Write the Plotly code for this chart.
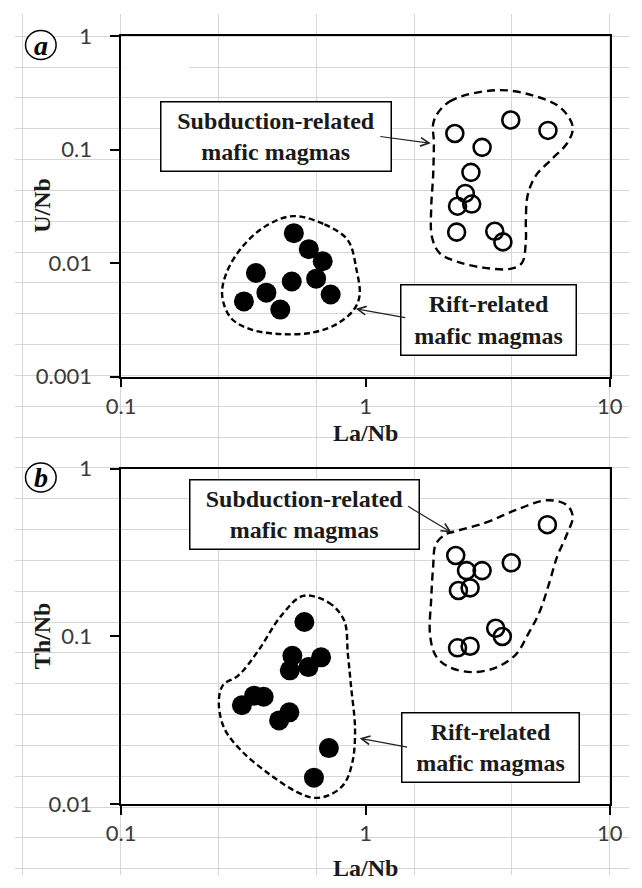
import math
import plotly.graph_objects as go

W, H = 642, 888

# ---------------- data ----------------
# panel a : U/Nb vs La/Nb
a_rift_la = [0.509, 0.586, 0.668, 0.356, 0.499, 0.628, 0.393, 0.318, 0.720, 0.448]
a_rift_u = [0.0184, 0.0133, 0.0104, 0.0082, 0.0069, 0.0073, 0.0055, 0.0046, 0.0053, 0.0039]
a_sub_la = [2.32, 3.93, 5.58, 3.00, 2.70, 2.56, 2.38, 2.72, 2.36, 3.38, 3.65]
a_sub_u = [0.139, 0.183, 0.148, 0.105, 0.0632, 0.0412, 0.0318, 0.0332, 0.0188, 0.0191, 0.0154]

# panel b : Th/Nb vs La/Nb
b_rift_la = [0.562, 0.502, 0.658, 0.584, 0.490, 0.350, 0.383, 0.312, 0.488, 0.443, 0.708, 0.615]
b_rift_th = [0.122, 0.0767, 0.0751, 0.0657, 0.0628, 0.0444, 0.0437, 0.0389, 0.0353, 0.0316, 0.0216, 0.0144]
b_sub_la = [2.34, 2.59, 3.00, 3.95, 5.55, 2.68, 2.40, 3.41, 3.63, 2.38, 2.68]
b_sub_th = [0.304, 0.247, 0.247, 0.275, 0.464, 0.195, 0.188, 0.112, 0.100, 0.0856, 0.0875]

# field envelopes (dashed outlines)
a_rift_env_x = [0.506, 0.679, 0.847, 0.918, 0.946, 0.895, 0.759, 0.608, 0.453, 0.337, 0.281, 0.259, 0.270, 0.313, 0.391]
a_rift_env_y = [0.0260, 0.0220, 0.0159, 0.00881, 0.00521, 0.00388, 0.00289, 0.00245, 0.00237, 0.00262, 0.00330, 0.00521, 0.00825, 0.0139, 0.0213]
a_sub_env_x = [1.905, 2.208, 3.436, 4.786, 6.31, 7.05, 6.67, 5.75, 4.97, 4.61, 4.53, 4.53, 4.365, 3.91, 3.08, 2.42, 2.014, 1.871, 1.857, 1.891, 1.905]
a_sub_env_y = [0.180, 0.266, 0.335, 0.303, 0.233, 0.157, 0.1135, 0.0818, 0.0589, 0.0398, 0.0235, 0.0159, 0.01004, 0.00892, 0.0091, 0.01017, 0.01222, 0.01696, 0.0306, 0.0589, 0.1135]
b_rift_env_x = [0.555, 0.705, 0.817, 0.847, 0.873, 0.906, 0.885, 0.817, 0.705, 0.608, 0.525, 0.405, 0.313, 0.265, 0.251, 0.261, 0.302, 0.363, 0.453]
b_rift_env_y = [0.1745, 0.1596, 0.125, 0.0783, 0.0501, 0.0281, 0.0180, 0.0132, 0.01128, 0.01093, 0.0118, 0.01507, 0.0206, 0.0281, 0.0401, 0.0513, 0.0586, 0.0818, 0.1336]
b_sub_env_x = [2.29, 3.08, 4.13, 5.55, 6.67, 7.05, 6.67, 6.08, 5.65, 5.15, 4.61, 4.13, 3.44, 2.75, 2.21, 1.94, 1.837, 1.857, 1.891, 1.94, 2.13]
b_sub_env_y = [0.421, 0.475, 0.568, 0.649, 0.607, 0.519, 0.407, 0.298, 0.2085, 0.1396, 0.1022, 0.0783, 0.0655, 0.0613, 0.0655, 0.0766, 0.1022, 0.1668, 0.2606, 0.356, 0.407]

x_ticks = [0.1, 1, 10]
x_ticktext = ["0.1", "1", "10"]
a_y_ticks = [0.001, 0.01, 0.1, 1]
a_y_ticktext = ["0.001", "0.01", "0.1", "1"]
b_y_ticks = [0.01, 0.1, 1]
b_y_ticktext = ["0.01", "0.1", "1"]

label_sub = "Subduction-related<br>mafic magmas"
label_rift = "Rift-related<br>mafic magmas"

# ---------------- figure ----------------
def px(x):
    return x / W

def py(y):
    return 1 - y / H

fig = go.Figure()

# spreadsheet-like background grid subplot (x/y)
fig.add_trace(go.Scatter(x=[0], y=[0], mode="markers", marker=dict(opacity=0),
                         hoverinfo="skip", showlegend=False, xaxis="x", yaxis="y"))

def closed(v):
    return list(v) + [v[0]]

def add_panel(xa, ya, rift_x, rift_y, sub_x, sub_y, renv_x, renv_y, senv_x, senv_y):
    fig.add_trace(go.Scatter(x=closed(renv_x), y=closed(renv_y), mode="lines",
                             line=dict(color="black", width=2.4, dash="6px,3.5px", shape="spline", smoothing=1),
                             showlegend=False, hoverinfo="skip", xaxis=xa, yaxis=ya))
    fig.add_trace(go.Scatter(x=closed(senv_x), y=closed(senv_y), mode="lines",
                             line=dict(color="black", width=2.4, dash="8px,5px", shape="spline", smoothing=1),
                             showlegend=False, hoverinfo="skip", xaxis=xa, yaxis=ya))
    fig.add_trace(go.Scatter(x=rift_x, y=rift_y, mode="markers",
                             marker=dict(symbol="circle", size=20, color="black", line=dict(width=0)),
                             showlegend=False, xaxis=xa, yaxis=ya))
    fig.add_trace(go.Scatter(x=sub_x, y=sub_y, mode="markers",
                             marker=dict(symbol="circle-open", size=17, color="black", line=dict(width=2.6)),
                             showlegend=False, xaxis=xa, yaxis=ya))

add_panel("x2", "y2", a_rift_la, a_rift_u, a_sub_la, a_sub_u,
          a_rift_env_x, a_rift_env_y, a_sub_env_x, a_sub_env_y)
add_panel("x3", "y3", b_rift_la, b_rift_th, b_sub_la, b_sub_th,
          b_rift_env_x, b_rift_env_y, b_sub_env_x, b_sub_env_y)

tickfont = dict(family="Lato", size=22, color="#3a3a3a")
common = dict(showline=True, linecolor="black", linewidth=1.5, mirror=True,
              ticks="outside", ticklen=9, tickwidth=1.5, tickcolor="black",
              showgrid=False, zeroline=False, tickfont=tickfont, type="log")

x_dom = [px(111), px(622)]
fig.update_layout(
    width=W, height=H, margin=dict(l=0, r=0, t=0, b=0),
    paper_bgcolor="white", plot_bgcolor="rgba(0,0,0,0)",
    showlegend=False,
    xaxis=dict(domain=[0, 1], range=[0, W], tick0=110, dtick=102.4, showgrid=True,
               gridcolor="#d6d6d6", gridwidth=1.2, showticklabels=False, ticks="",
               zeroline=False, showline=False, anchor="y", fixedrange=True),
    yaxis=dict(domain=[0, 1], range=[H, 0], tick0=23, dtick=31.8, showgrid=True,
               gridcolor="#d6d6d6", gridwidth=1.2, showticklabels=False, ticks="",
               zeroline=False, showline=False, anchor="x", fixedrange=True),
    xaxis2=dict(domain=x_dom, range=[-1, 1], anchor="y2", tickvals=x_ticks,
                ticktext=x_ticktext, ticklabelstandoff=0, **common),
    yaxis2=dict(domain=[py(374), py(23)], range=[-3, 0], anchor="x2", tickvals=a_y_ticks,
                ticktext=a_y_ticktext, ticklabelstandoff=14, **common),
    xaxis3=dict(domain=x_dom, range=[-1, 1], anchor="y3", tickvals=x_ticks,
                ticktext=x_ticktext, ticklabelstandoff=0, **common),
    yaxis3=dict(domain=[py(815), py(469)], range=[-2, 0], anchor="x3", tickvals=b_y_ticks,
                ticktext=b_y_ticktext, ticklabelstandoff=14, **common),
)

# white patch in the sheet behind the top-left of panel a
fig.add_shape(type="rect", xref="x", yref="y", x0=112, x1=182, y0=24, y1=72,
              fillcolor="white", line=dict(width=0), layer="between")

serif = "Liberation Serif"
boxfont = dict(family=serif, size=24, color="#1a1a1a")

def box(cx, cy, w, h, text):
    fig.add_annotation(xref="paper", yref="paper", x=px(cx), y=py(cy), xanchor="center",
                       yanchor="middle", text="<b>" + text + "</b>", showarrow=False,
                       width=w, height=h, borderpad=0, bordercolor="black", borderwidth=1.5,
                       bgcolor="white", font=boxfont, align="center", valign="middle")

box(272.5, 126, 229, 68, label_sub)
box(495, 315.5, 174, 69, label_rift)
box(303, 516, 228, 68, label_sub)
box(497, 756, 176, 68, label_rift)

def arrow(xa, ya, x, y, ax, ay):
    fig.add_annotation(xref=xa, yref=ya, x=x, y=y, ax=ax, ay=ay, text="", showarrow=True,
                       arrowhead=5, arrowsize=1.4, arrowwidth=1.2, arrowcolor="#222",
                       standoff=0, startstandoff=0)

arrow("x2", "y2", math.log10(1.85), math.log10(0.114), -52, -7)
arrow("x2", "y2", math.log10(0.912), math.log10(0.00396), 51, 9)
arrow("x3", "y3", math.log10(2.25), math.log10(0.417), -45, -27)
arrow("x3", "y3", math.log10(0.946), math.log10(0.0247), 49, 9)

titlefont = dict(family=serif, size=24, color="#1a1a1a")
for (cx, cy, t, ang, anchor) in [(28, 197, "U/Nb", -90, "middle"), (28, 641, "Th/Nb", -90, "middle"),
                                 (367, 432, "La/Nb", 0, "middle"), (367, 865, "La/Nb", 0, "top")]:
    fig.add_annotation(xref="paper", yref="paper", x=px(cx), y=py(cy), text="<b>" + t + "</b>",
                       showarrow=False, textangle=ang, font=titlefont,
                       xanchor="center", yanchor=anchor)

# circled panel letters
for (cx, cy, t) in [(27, 32, "a"), (27, 478, "b")]:
    fig.add_shape(type="circle", xref="paper", yref="paper",
                  x0=px(cx - 16), x1=px(cx + 16), y0=py(cy + 15), y1=py(cy - 15),
                  line=dict(color="black", width=1.5), fillcolor="white")
    fig.add_annotation(xref="paper", yref="paper", x=px(cx), y=py(cy), text="<b><i>" + t + "</i></b>",
                       showarrow=False, font=dict(family=serif, size=28, color="black"),
                       xanchor="center", yanchor="middle")

fig.write_html("out.html")
